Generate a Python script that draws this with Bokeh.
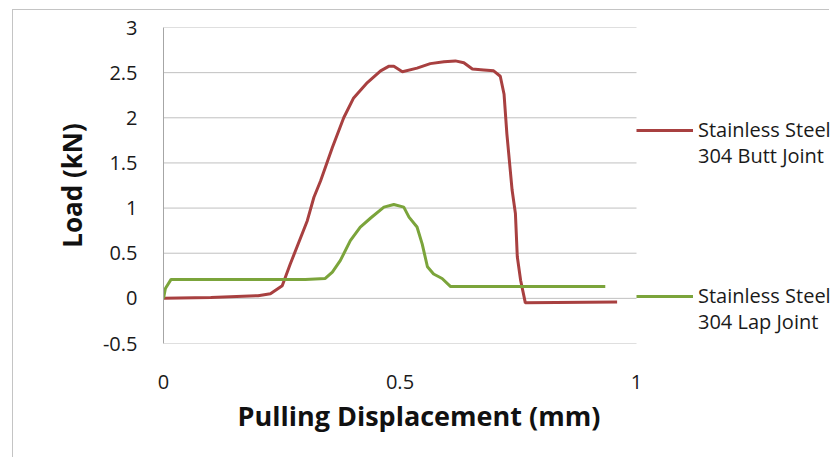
from bokeh.plotting import figure
from bokeh.models import Range1d, Legend, LegendItem, FixedTicker, Title
from bokeh.embed import file_html
from bokeh.resources import INLINE

# Data
butt_x = [0, 0.10, 0.20, 0.226, 0.251, 0.268, 0.304, 0.318, 0.332, 0.357, 0.381, 0.402,
          0.431, 0.459, 0.476, 0.487, 0.505, 0.536, 0.564, 0.593, 0.617, 0.635, 0.653,
          0.677, 0.698, 0.712, 0.720, 0.726, 0.737, 0.744, 0.748, 0.755, 0.765, 0.959]
butt_y = [0, 0.01, 0.03, 0.05, 0.14, 0.38, 0.86, 1.12, 1.30, 1.67, 2.00, 2.22,
          2.39, 2.52, 2.57, 2.57, 2.51, 2.55, 2.60, 2.62, 2.63, 2.61, 2.54,
          2.53, 2.52, 2.46, 2.26, 1.82, 1.20, 0.94, 0.46, 0.20, -0.05, -0.04]

lap_x = [0, 0.004, 0.016, 0.10, 0.20, 0.30, 0.342, 0.357, 0.374, 0.395, 0.416, 0.438,
         0.466, 0.487, 0.508, 0.519, 0.536, 0.547, 0.558, 0.571, 0.589, 0.607, 0.934]
lap_y = [0, 0.11, 0.21, 0.21, 0.21, 0.21, 0.22, 0.29, 0.42, 0.64, 0.79, 0.89,
         1.01, 1.04, 1.01, 0.90, 0.79, 0.60, 0.35, 0.27, 0.22, 0.13, 0.13]

x_ticks = [0, 0.5, 1]
x_tick_labels = {0: "0", 0.5: "0.5", 1: "1"}
y_ticks = [-0.5, 0, 0.5, 1, 1.5, 2, 2.5, 3]
y_tick_labels = {-0.5: "-0.5", 0: "0", 0.5: "0.5", 1: "1", 1.5: "1.5", 2: "2", 2.5: "2.5", 3: "3"}

series_line1 = ["Stainless Steel", "Stainless Steel"]
series_line2 = ["304 Butt Joint", "304 Lap Joint"]
series_colors = ["#A84040", "#7BA43B"]

x_label = "Pulling Displacement (mm)"
y_label = "Load (kN)"

FONT = "Open Sans"
W, H = 817, 448
LEFT, TOP, FRAME_W, FRAME_H = 150, 17, 473, 316

# the frame extends to the right edge so the legend can sit inside it
x_end = x_ticks[-1] * (W - LEFT) / FRAME_W

p = figure(width=W, height=H, output_backend="svg", toolbar_location=None,
           x_range=Range1d(x_ticks[0], x_end), y_range=Range1d(y_ticks[0], y_ticks[-1]),
           min_border_left=LEFT, min_border_right=0, min_border_top=TOP,
           min_border_bottom=H - TOP - FRAME_H,
           y_axis_label=y_label)
p.styles = {"margin-left": "12px", "margin-top": "9px",
            "border-left": "1px solid #c4c4c4", "border-top": "1px solid #c4c4c4"}
p.outline_line_color = None
p.background_fill_color = "white"
p.border_fill_color = "white"

# horizontal gridlines from x=0 to x=1 (incl. the bottom line at -0.5)
n = len(y_ticks)
p.segment(x0=[x_ticks[0]] * n, y0=y_ticks, x1=[x_ticks[-1]] * n, y1=y_ticks,
          line_color="#c0c0c0", line_width=1)

r1 = p.line(butt_x, butt_y, line_color=series_colors[0], line_width=3)
r2 = p.line(lap_x, lap_y, line_color=series_colors[1], line_width=3)
ghost = p.line(x=[], y=[], line_alpha=0)

for ax in (p.xaxis[0], p.yaxis[0]):
    ax.axis_line_color = "#a6a6a6"
    ax.axis_line_width = 1
    ax.major_tick_line_color = None
    ax.minor_tick_line_color = None
    ax.major_tick_in = 0
    ax.major_tick_out = 0
    ax.major_label_text_font = FONT
    ax.major_label_text_font_size = "20px"
    ax.major_label_text_color = "#1a1a1a"
    ax.axis_label_text_font = FONT
    ax.axis_label_text_font_size = "26px"
    ax.axis_label_text_font_style = "bold"
    ax.axis_label_text_color = "#111111"

p.xaxis[0].axis_line_color = None
p.xaxis[0].ticker = FixedTicker(ticks=x_ticks)
p.xaxis[0].major_label_overrides = x_tick_labels
p.xaxis[0].major_label_standoff = 31
p.yaxis[0].ticker = FixedTicker(ticks=y_ticks)
p.yaxis[0].major_label_overrides = y_tick_labels
p.yaxis[0].major_label_standoff = 26
p.yaxis[0].axis_label_standoff = 10

p.add_layout(Title(text=x_label, align="left", offset=74, standoff=7,
                   text_font=FONT, text_font_size="27px", text_font_style="bold",
                   text_color="#111111"), "below")

p.xgrid.grid_line_color = None
p.ygrid.grid_line_color = None

common = dict(padding=0, margin=0, spacing=139, glyph_width=57, glyph_height=26,
              label_height=26, label_standoff=5, border_line_color=None,
              background_fill_alpha=0, label_text_font=FONT, label_text_font_size="20px",
              label_text_color="#1a1a1a")
legend_a = Legend(items=[LegendItem(label=series_line1[0], renderers=[r1]),
                         LegendItem(label=series_line1[1], renderers=[r2])],
                  location=(FRAME_W, 34), **common)
legend_b = Legend(items=[LegendItem(label=series_line2[0], renderers=[ghost]),
                         LegendItem(label=series_line2[1], renderers=[ghost])],
                  location=(FRAME_W, 8), **common)
p.add_layout(legend_a, "center")
p.add_layout(legend_b, "center")

open("out.html", "w").write(file_html(p, INLINE))
